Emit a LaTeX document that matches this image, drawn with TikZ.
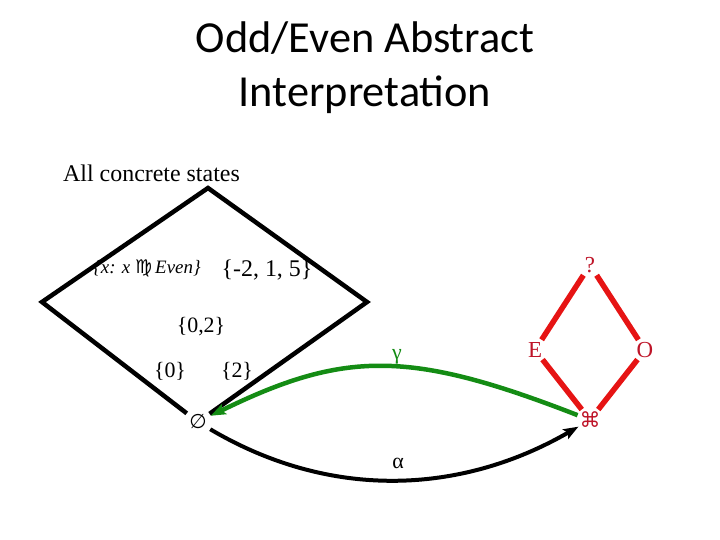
\documentclass[tikz,border=0pt]{standalone}
\usepackage{fontspec}
\setmainfont{Liberation Serif}
\newfontfamily\calibri{Carlito}
\newfontfamily\dejavu{DejaVu Sans}
\usetikzlibrary{arrows.meta}
\definecolor{grn}{RGB}{20,140,20}
\definecolor{redline}{RGB}{230,20,20}
\definecolor{redtext}{RGB}{190,20,40}
\tikzset{
  lbl/.style={inner sep=0pt, font=\fontsize{22}{26}\selectfont},
  titletext/.style={inner sep=0pt, anchor=base, font=\calibri\fontsize{44.5}{53}\selectfont},
  blk/.style={line width=4.5bp, black, line join=miter},
  redl/.style={line width=5.5bp, redline},
  rednode/.style={circle, inner sep=0pt, minimum size=24bp, text=redtext, font=\fontsize{23}{27}\selectfont},
  grnarrow/.style={line width=4.5bp, grn, -{Stealth[length=15bp,width=11bp,inset=3bp]}},
  blkarrow/.style={line width=4bp, black, -{Stealth[length=15bp,width=11bp,inset=3bp]}}
}
\begin{document}
\begin{tikzpicture}[x=1bp,y=-1bp]
\useasboundingbox (0,0) rectangle (720,540);
% title
\node[titletext] (t1) at (365,53) {Odd/Even Abstract};
\node[titletext] (t2) at (365,107) {Interpretation};
% concrete lattice
\node[lbl, anchor=base west, font=\fontsize{24}{28}\selectfont] (all) at (63,182) {All concrete states};
\coordinate (tc) at (208,188);
\coordinate (lc) at (42,302);
\coordinate (rc) at (367,302);
\node[circle, inner sep=0pt, minimum size=28bp, font=\dejavu\fontsize{20}{24}\selectfont] (emp) at (198,422) {∅};
\draw[blk] (emp) -- (lc) -- (tc) -- (rc) -- (emp);
\node[lbl, font=\itshape\fontsize{19}{22}\selectfont] (xset) at (147,268) {\{x: x {\upshape\dejavu ♍}\,Even\}};
\node[lbl, font=\fontsize{24}{28}\selectfont] (neg) at (267,270) {\{-2, 1, 5\}};
\node[lbl] (s02) at (201,327) {\{0,2\}};
\node[lbl] (s0) at (170,371) {\{0\}};
\node[lbl] (s2) at (237,371) {\{2\}};
% abstract lattice
\node[rednode] (q) at (590,265) {?};
\node[rednode] (E) at (535,350) {E};
\node[rednode] (O) at (645,350) {O};
\node[rednode, font=\dejavu\fontsize{21}{25}\selectfont] (bot) at (590,420) {⌘};
\draw[redl] (q) -- (E);
\draw[redl] (q) -- (O);
\draw[redl] (E) -- (bot);
\draw[redl] (O) -- (bot);
% connections
\draw[grnarrow] (bot) .. controls (410,350) and (345,350) .. (emp);
\node[lbl, text=grn] (gamma) at (397,357) {γ};
\draw[blkarrow] (emp) .. controls (330,500) and (460,495) .. (bot);
\node[lbl] (alpha) at (398,463) {α};
\end{tikzpicture}
\end{document}
